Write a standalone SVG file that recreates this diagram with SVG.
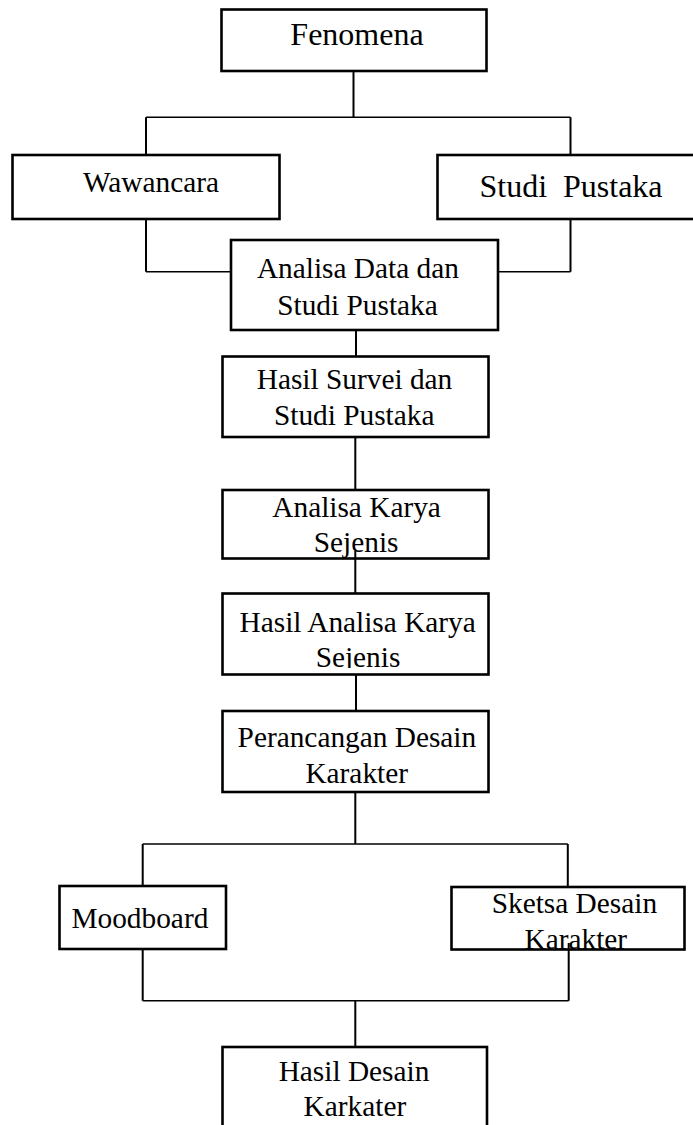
<svg xmlns="http://www.w3.org/2000/svg" width="693" height="1125" viewBox="0 0 693 1125">
<style>
.box{fill:none;stroke:#000;stroke-width:2.6}
.t{font-family:"Liberation Serif","Times New Roman",serif;font-size:29.33px;fill:#000;text-anchor:middle}
.big{font-size:32px}
.c{fill:none;stroke:#000;stroke-width:2}
.h{fill:none;stroke:#000;stroke-width:1.6}
</style>
<defs>
<clipPath id="clipHA"><rect x="222" y="593" width="267" height="75"/></clipPath>
</defs>
<rect width="693" height="1125" fill="#fff"/>
<g id="fenomena">
<text class="t big" x="357" y="45">Fenomena</text>
<rect class="box" x="221.5" y="9.5" width="265" height="61.5"/>
</g>
<g id="wawancara">
<text class="t" x="151" y="192.3">Wawancara</text>
<rect class="box" x="12.5" y="155" width="267" height="64"/>
</g>
<g id="studi-pustaka">
<text class="t big" x="571" y="196.7" xml:space="preserve">Studi  Pustaka</text>
<rect class="box" x="437.5" y="155" width="262" height="64"/>
</g>
<g id="analisa-data">
<text class="t" x="357.9" y="277.7">Analisa Data dan</text>
<text class="t" x="357.5" y="315">Studi Pustaka</text>
<rect class="box" x="231" y="240" width="267" height="90"/>
</g>
<g id="hasil-survei">
<text class="t" x="354.5" y="389">Hasil Survei dan</text>
<text class="t" x="354.2" y="425">Studi Pustaka</text>
<rect class="box" x="222.5" y="356.5" width="266" height="80.5"/>
</g>
<g id="analisa-karya">
<text class="t" x="356.6" y="516.7">Analisa Karya</text>
<text class="t" x="356.1" y="551.7">Sejenis</text>
<rect class="box" x="222.5" y="490" width="266" height="68.5"/>
</g>
<g id="hasil-analisa">
<text class="t" x="357.7" y="631.7">Hasil Analisa Karya</text>
<text class="t" x="358" y="667.3" clip-path="url(#clipHA)">Sejenis</text>
<rect class="box" x="222.5" y="593.5" width="266" height="81"/>
</g>
<g id="perancangan">
<text class="t" x="356.9" y="746.7">Perancangan Desain</text>
<text class="t" x="356.7" y="783.3">Karakter</text>
<rect class="box" x="222.5" y="711" width="266" height="81"/>
</g>
<g id="moodboard">
<text class="t" x="139.9" y="927.7">Moodboard</text>
<rect class="box" x="59.5" y="886" width="166.5" height="63"/>
</g>
<g id="sketsa">
<text class="t" x="574.4" y="912.7">Sketsa Desain</text>
<text class="t" x="575.8" y="948.5">Karakter</text>
<rect class="box" x="451.5" y="887" width="233" height="62.5"/>
</g>
<g id="hasil-desain">
<text class="t" x="354" y="1080.7">Hasil Desain</text>
<text class="t" x="354.9" y="1116">Karkater</text>
<rect class="box" x="222.5" y="1047" width="264.5" height="100"/>
</g>
<g id="connectors">
<path class="c" d="M353.5 71 V117.3"/>
<path class="h" d="M146 117.3 H570.5"/>
<path class="c" d="M146 117.3 V155 M570.5 117.3 V155"/>
<path class="c" d="M146 219 V271.7 M570.5 219 V271.7"/>
<path class="h" d="M146 271.7 H231 M498 271.7 H570.5"/>
<path class="c" d="M356 330 V356.5"/>
<path class="c" d="M355.3 437 V490"/>
<path class="c" d="M355.3 551 V593.5"/>
<path class="c" d="M356 674.5 V711"/>
<path class="c" d="M355.3 792 V844"/>
<path class="h" d="M142.7 844 H567.8"/>
<path class="c" d="M142.7 844 V886 M567.8 844 V887"/>
<path class="c" d="M142.7 949 V1000.7 M568.7 943 V1000.7"/>
<path class="h" d="M142.7 1000.7 H568.7"/>
<path class="c" d="M355.3 1000.7 V1047"/>
</g>
</svg>
